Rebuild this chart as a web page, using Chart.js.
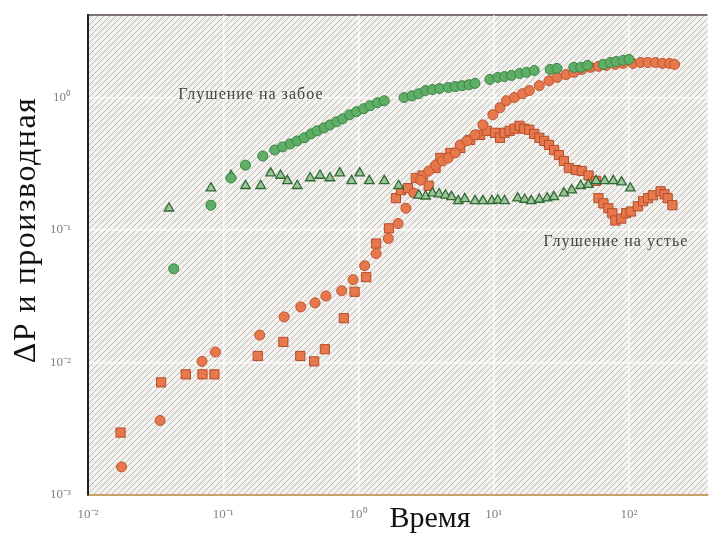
<!DOCTYPE html>
<html>
<head>
<meta charset="utf-8">
<script src="https://cdn.jsdelivr.net/npm/chart.js@4"></script>
<style>
  body { margin: 0; background: #fff; }
</style>
</head>
<body>
<canvas id="wellChart" width="715" height="540"></canvas>
<script>
// values (time, dP / derivative), log-log
const greenCircX = [0.043, 0.081, 0.114, 0.146, 0.196, 0.240, 0.274, 0.313, 0.352, 0.397,
  0.446, 0.494, 0.556, 0.614, 0.690, 0.764, 0.859, 0.966, 1.09, 1.22,
  1.38, 1.55, 2.17, 2.48, 2.79, 3.13, 3.52, 3.97, 4.61, 5.19,
  5.84, 6.57, 7.26, 9.35, 10.7, 12.0, 13.5, 15.5, 17.4, 19.9,
  26.1, 29.3, 39.0, 43.9, 49.3, 64.5, 72.6, 80.3, 90.4, 100];
const greenCircY = [0.051, 0.154, 0.247, 0.309, 0.362, 0.402, 0.424, 0.447, 0.471, 0.497,
  0.532, 0.561, 0.590, 0.622, 0.656, 0.691, 0.741, 0.782, 0.824, 0.868,
  0.914, 0.947, 1.00, 1.03, 1.07, 1.13, 1.15, 1.17, 1.19, 1.21,
  1.23, 1.25, 1.28, 1.37, 1.42, 1.44, 1.47, 1.52, 1.55, 1.60,
  1.63, 1.66, 1.69, 1.69, 1.75, 1.78, 1.84, 1.87, 1.91, 1.94];

const greenTriX = [0.0397, 0.081, 0.114, 0.146, 0.189, 0.224, 0.265, 0.298, 0.352, 0.439,
  0.519, 0.614, 0.726, 0.889, 1.02, 1.20, 1.55, 1.98, 2.79, 3.13,
  3.52, 3.94, 4.39, 4.87, 5.46, 6.1, 7.26, 8.31, 9.67, 10.7,
  12.0, 15.0, 16.9, 18.9, 21.7, 24.8, 27.8, 33.0, 37.7, 43.9,
  50.0, 57.0, 66.0, 76.4, 88.0, 102];
const greenTriY = [0.146, 0.207, 0.258, 0.216, 0.216, 0.269, 0.258, 0.235, 0.216, 0.247,
  0.258, 0.247, 0.269, 0.235, 0.269, 0.235, 0.235, 0.216, 0.183, 0.180,
  0.190, 0.187, 0.183, 0.178, 0.166, 0.172, 0.166, 0.166, 0.166, 0.168,
  0.166, 0.174, 0.170, 0.166, 0.170, 0.174, 0.178, 0.190, 0.200, 0.216,
  0.220, 0.235, 0.235, 0.235, 0.230, 0.207];

const orangeCircX = [0.0177, 0.0341, 0.0697, 0.0875, 0.186, 0.282, 0.374, 0.477, 0.574, 0.751,
  0.912, 1.11, 1.35, 1.66, 1.96, 2.24, 2.56, 2.88, 3.30, 3.71,
  4.17, 4.61, 5.19, 5.65, 6.35, 7.26, 8.31, 9.84, 11.1, 12.4,
  14.2, 16.3, 18.3, 21.7, 25.6, 29.3, 34.1, 39.0, 44.7, 51.9,
  59.4, 67.9, 79.1, 90.4, 107, 122, 138, 157, 177, 199, 217];
const orangeCircY = [0.00163, 0.00365, 0.0102, 0.0120, 0.0161, 0.0221, 0.0263, 0.0282, 0.0318, 0.0348,
  0.0422, 0.0538, 0.0664, 0.0863, 0.112, 0.146, 0.190, 0.238, 0.279, 0.309,
  0.332, 0.350, 0.382, 0.439, 0.471, 0.523, 0.622, 0.741, 0.838, 0.947,
  1.00, 1.07, 1.13, 1.23, 1.34, 1.42, 1.49, 1.55, 1.63, 1.69,
  1.72, 1.75, 1.78, 1.81, 1.81, 1.84, 1.84, 1.84, 1.81, 1.81, 1.78];

const orangeSqX = [0.0174, 0.0347, 0.0528, 0.0702, 0.0860, 0.180, 0.278, 0.371, 0.470, 0.564,
  0.778, 0.935, 1.14, 1.35, 1.68, 1.89, 2.06, 2.32, 2.65, 2.98,
  3.30, 3.71, 4.03, 4.77, 5.65, 6.68, 7.91, 8.89, 10.2, 11.1,
  12.0, 13.1, 14.2, 15.5, 16.8, 18.3, 19.9, 21.7, 23.6, 25.6,
  27.9, 30.3, 33.0, 35.9, 40.4, 44.7, 50.2, 57.0, 59.4, 64.6,
  70.3, 75.2, 79.1, 87.5, 95.1, 103, 116, 127, 138, 150,
  171, 183, 193, 209];
const orangeSqY = [0.00296, 0.00708, 0.00814, 0.00814, 0.00814, 0.0112, 0.0143, 0.0112, 0.0102, 0.0126,
  0.0216, 0.0342, 0.0441, 0.0791, 0.103, 0.174, 0.200, 0.207, 0.247, 0.258,
  0.216, 0.294, 0.350, 0.382, 0.417, 0.479, 0.523, 0.561, 0.542, 0.497,
  0.542, 0.561, 0.582, 0.612, 0.582, 0.571, 0.532, 0.497, 0.471, 0.439,
  0.402, 0.368, 0.332, 0.294, 0.284, 0.279, 0.258, 0.235, 0.174, 0.159,
  0.146, 0.134, 0.118, 0.122, 0.134, 0.138, 0.151, 0.165, 0.174, 0.183,
  0.196, 0.186, 0.174, 0.154];

const xTickVals = [0.01, 0.1, 1, 10, 100];
const xTickText = ['10⁻²', '10⁻¹', '10⁰', '10¹', '10²'];
const yTickVals = [0.001, 0.01, 0.1, 1];
const yTickText = ['10⁻³', '10⁻²', '10⁻¹', '10⁰'];

const xTitle = 'Время';
const yTitle = 'ΔP и производная';

// labels written inside the plot
const notes = [
  { text: 'Глушение на забое', x: 0.16, y: 1.05 },
  { text: 'Глушение на устье', x: 80, y: 0.082 }
];

function pts(xs, ys) {
  return xs.map((x, i) => ({ x: x, y: ys[i] }));
}

// hatched grey paper look for the plot area
const hatch = document.createElement('canvas');
hatch.width = 6; hatch.height = 6;
const hc = hatch.getContext('2d');
hc.fillStyle = '#f4f2ef';
hc.fillRect(0, 0, 6, 6);
hc.strokeStyle = '#bdb9b4';
hc.lineWidth = 1;
hc.beginPath();
hc.moveTo(0, 6); hc.lineTo(6, 0);
hc.moveTo(-3, 3); hc.lineTo(3, -3);
hc.moveTo(3, 9); hc.lineTo(9, 3);
hc.stroke();

const paperPlugin = {
  id: 'paper',
  beforeDraw(chart) {
    const { ctx, chartArea: a } = chart;
    ctx.save();
    ctx.fillStyle = ctx.createPattern(hatch, 'repeat');
    ctx.fillRect(a.left, a.top, a.right - a.left, a.bottom - a.top);
    ctx.strokeStyle = '#7d6e78';
    ctx.lineWidth = 2;
    ctx.beginPath();
    ctx.moveTo(a.left, a.top);
    ctx.lineTo(a.right, a.top);
    ctx.stroke();
    ctx.restore();
  },
  afterDraw(chart) {
    const { ctx, chartArea: a, scales } = chart;
    ctx.save();
    ctx.fillStyle = '#444';
    ctx.font = '16px "Liberation Serif"';
    ctx.letterSpacing = '1px';
    ctx.textAlign = 'center';
    ctx.textBaseline = 'middle';
    notes.forEach(n => {
      ctx.fillText(n.text, scales.x.getPixelForValue(n.x), scales.y.getPixelForValue(n.y));
    });

    // axis titles
    ctx.fillStyle = '#111';
    ctx.letterSpacing = '0px';
    ctx.font = '30px "Liberation Serif"';
    ctx.fillText(xTitle, a.left + 342, a.bottom + 24);
    ctx.translate(a.left - 61, a.top + 215);
    ctx.rotate(-Math.PI / 2);
    ctx.font = '32px "Liberation Serif"';
    ctx.letterSpacing = '1.5px';
    ctx.fillText(yTitle, 0, 0);
    ctx.restore();
  }
};

const tickFont = { family: 'Liberation Serif', size: 13 };

new Chart(document.getElementById('wellChart').getContext('2d'), {
  type: 'scatter',
  data: {
    datasets: [
      {
        label: 'Глушение на забое',
        data: pts(greenCircX, greenCircY),
        pointStyle: 'circle', pointRadius: 5,
        backgroundColor: '#5fae66', borderColor: '#3a8444', borderWidth: 1
      },
      {
        label: 'Глушение на забое, производная',
        data: pts(greenTriX, greenTriY),
        pointStyle: 'triangle', pointRadius: 5.5,
        backgroundColor: '#9cc697', borderColor: '#2f6a36', borderWidth: 1.3
      },
      {
        label: 'Глушение на устье',
        data: pts(orangeCircX, orangeCircY),
        pointStyle: 'circle', pointRadius: 5,
        backgroundColor: '#e7784c', borderColor: '#c0532f', borderWidth: 1
      },
      {
        label: 'Глушение на устье, производная',
        data: pts(orangeSqX, orangeSqY),
        pointStyle: 'rect', pointRadius: 6.5,
        backgroundColor: '#e7784c', borderColor: '#b54c2c', borderWidth: 1
      }
    ]
  },
  options: {
    responsive: false,
    animation: false,
    layout: { padding: { top: 15, right: 2, left: 0, bottom: 0 } },
    plugins: {
      legend: { display: false },
      tooltip: { enabled: false }
    },
    scales: {
      x: {
        type: 'logarithmic',
        min: 0.01, max: 380,
        afterBuildTicks: s => { s.ticks = xTickVals.map(v => ({ value: v })); },
        afterFit: s => { s.height = 45; s.paddingLeft = 0; s.paddingRight = 0; },
        ticks: {
          callback: (v, i) => xTickText[i],
          font: tickFont, color: '#808080', padding: 12,
          maxRotation: 0, autoSkip: false
        },
        grid: { color: 'rgba(255,255,255,0.75)', lineWidth: 1.5, drawTicks: false },
        border: { color: '#c6a464', width: 2 }
      },
      y: {
        type: 'logarithmic',
        min: 0.001, max: 4.2,
        afterBuildTicks: s => { s.ticks = yTickVals.map(v => ({ value: v })); },
        afterFit: s => { s.width = 88; s.paddingTop = 0; s.paddingBottom = 0; },
        ticks: {
          callback: (v, i) => yTickText[i],
          font: tickFont, color: '#808080', padding: 17,
          autoSkip: false
        },
        grid: { color: 'rgba(255,255,255,0.75)', lineWidth: 1.5, drawTicks: false },
        border: { color: '#222', width: 2 }
      }
    }
  },
  plugins: [paperPlugin]
});
</script>
</body>
</html>
